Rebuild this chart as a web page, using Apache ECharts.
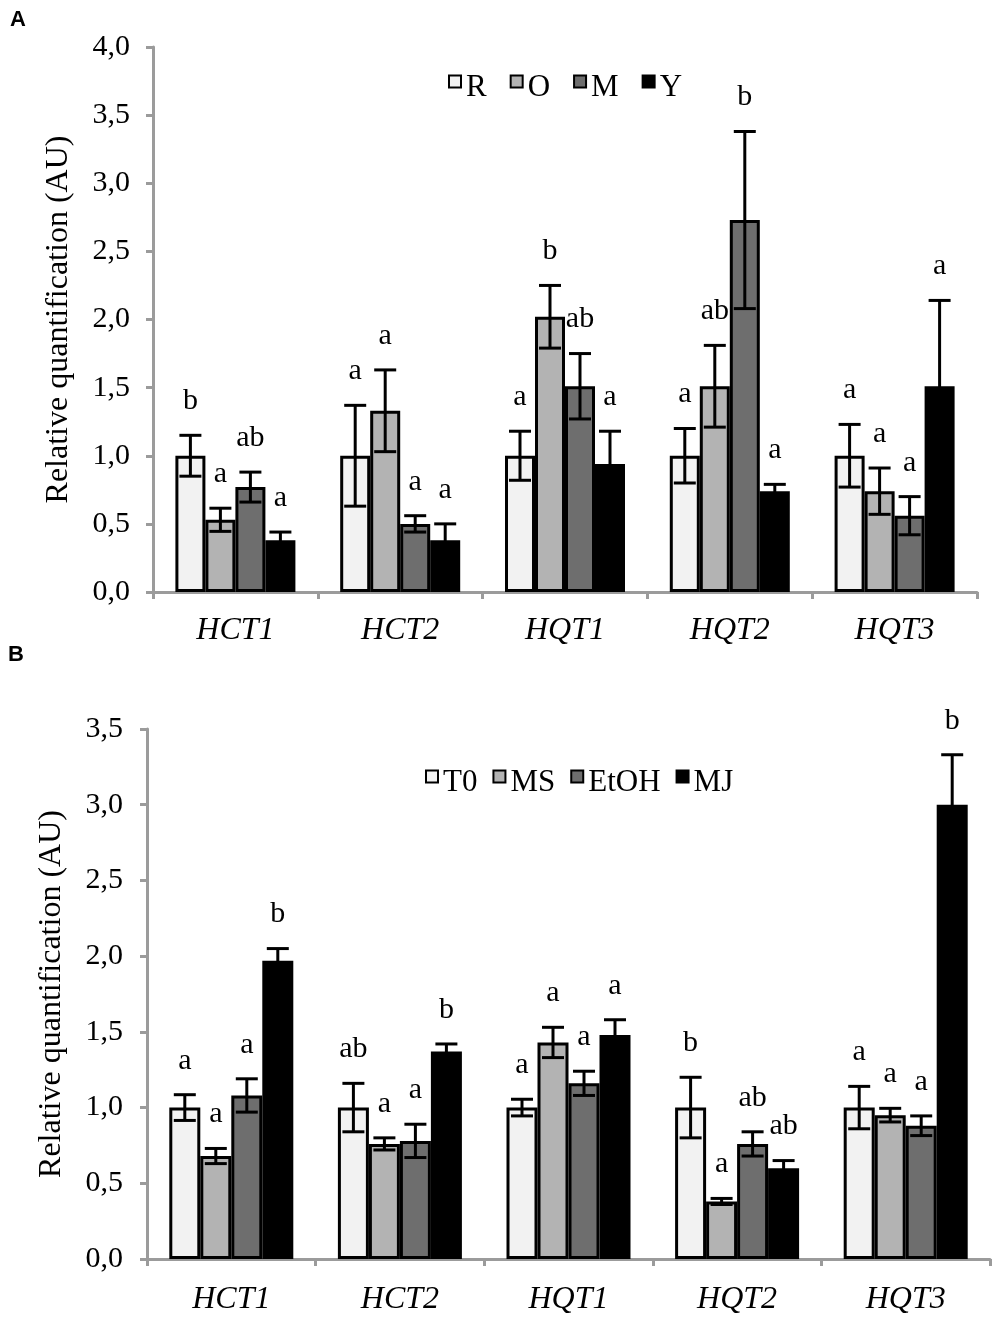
<!DOCTYPE html>
<html>
<head>
<meta charset="utf-8">
<script src="https://cdn.jsdelivr.net/npm/echarts@6/dist/echarts.min.js"></script>
<style>
  html, body { margin: 0; padding: 0; background: #fff; }
  #chart { width: 1000px; height: 1330px; }
</style>
</head>
<body>
<div id="chart"></div>
<script>
// ======================
// DATA
// ======================

const genes = ['HCT1', 'HCT2', 'HQT1', 'HQT2', 'HQT3'];
const yTicksA = { min: 0, max: 4, interval: 0.5 };
const yTicksB = { min: 0, max: 3.5, interval: 0.5 };

// Panel A: tissues
const namesA = ['R', 'O', 'M', 'Y'];
const aR = [1.0, 1.0, 1.0, 1.0, 1.0];
const aRErr = [0.15, 0.37, 0.18, 0.20, 0.23];
const aRSig = ['b', 'a', 'a', 'a', 'a'];
const aO = [0.53, 1.33, 2.02, 1.51, 0.74];
const aOErr = [0.085, 0.30, 0.23, 0.30, 0.17];
const aOSig = ['a', 'a', 'b', 'ab', 'a'];
const aM = [0.77, 0.50, 1.51, 2.73, 0.56];
const aMErr = [0.11, 0.06, 0.24, 0.65, 0.14];
const aMSig = ['ab', 'a', 'ab', 'b', 'a'];
const aY = [0.38, 0.38, 0.94, 0.74, 1.51];
const aYErr = [0.06, 0.12, 0.24, 0.05, 0.63];
const aYSig = ['a', 'a', 'a', 'a', 'a'];

// Panel B: treatments
const namesB = ['T0', 'MS', 'EtOH', 'MJ'];
const bT0 = [1.0, 1.0, 1.0, 1.0, 1.0];
const bT0Err = [0.085, 0.16, 0.055, 0.20, 0.14];
const bT0Sig = ['a', 'ab', 'a', 'b', 'a'];
const bMS = [0.68, 0.76, 1.43, 0.38, 0.95];
const bMSErr = [0.05, 0.04, 0.10, 0.02, 0.045];
const bMSSig = ['a', 'a', 'a', 'a', 'a'];
const bEtOH = [1.08, 0.78, 1.16, 0.76, 0.88];
const bEtOHErr = [0.11, 0.11, 0.08, 0.08, 0.065];
const bEtOHSig = ['a', 'a', 'a', 'ab', 'a'];
const bMJ = [1.97, 1.37, 1.48, 0.60, 3.00];
const bMJErr = [0.08, 0.05, 0.10, 0.05, 0.33];
const bMJSig = ['b', 'b', 'a', 'ab', 'b'];

const fills = ['#f2f2f2', '#b3b3b3', '#6e6e6e', '#000000'];

// ======================
// STYLE
// ======================

const SERIF = '"Liberation Serif", "Times New Roman", serif';
const AXIS_GREY = '#9b9b9b';
const BAR_W_A = 30;
const BAR_W_B = 31;

const commaFmt = v => v.toFixed(1).replace('.', ',');

function xAxisFor(gridIndex, margin) {
    return {
        type: 'category',
        gridIndex,
        data: genes,
        axisLine: { show: true, lineStyle: { color: AXIS_GREY, width: 3 } },
        axisTick: { show: true, length: 7, lineStyle: { color: AXIS_GREY, width: 3 } },
        axisLabel: {
            margin,
            fontFamily: SERIF,
            fontStyle: 'italic',
            fontSize: 32,
            color: '#000'
        }
    };
}

function yAxisFor(gridIndex, ticks, nameGap, margin) {
    return {
        type: 'value',
        gridIndex,
        min: ticks.min,
        max: ticks.max,
        interval: ticks.interval,
        name: 'Relative quantification (AU)',
        nameLocation: 'middle',
        nameGap,
        nameTextStyle: { fontFamily: SERIF, fontSize: 32, color: '#000' },
        axisLine: { show: true, lineStyle: { color: AXIS_GREY, width: 3 } },
        axisTick: { show: true, length: 7, lineStyle: { color: AXIS_GREY, width: 3 } },
        splitLine: { show: false },
        axisLabel: {
            margin,
            formatter: commaFmt,
            fontFamily: SERIF,
            fontSize: 30,
            color: '#000'
        }
    };
}

function barSeries(name, gridIndex, values, color, barWidth) {
    return {
        type: 'bar',
        name,
        xAxisIndex: gridIndex,
        yAxisIndex: gridIndex,
        data: values,
        barWidth,
        barGap: '0%',
        itemStyle: { color, borderColor: '#000', borderWidth: 3 },
        emphasis: { disabled: true },
        z: 2
    };
}

function errorSeries(name, gridIndex, pos, means, errs, sigs, barWidth) {
    return {
        type: 'custom',
        name: name + '-err',
        xAxisIndex: gridIndex,
        yAxisIndex: gridIndex,
        z: 5,
        silent: true,
        encode: { x: 0, y: 1 },
        data: means.map((m, k) => [k, m, errs[k]]),
        renderItem: (params, api) => {
            const k = api.value(0);
            const m = api.value(1);
            const e = api.value(2);
            const x = api.coord([k, m])[0] + (pos - 1.5) * barWidth;
            const yTop = api.coord([k, m + e])[1];
            const yBot = api.coord([k, m - e])[1];
            const cap = 11;
            const st = { stroke: '#000', lineWidth: 3 };
            return {
                type: 'group',
                children: [
                    { type: 'line', shape: { x1: x, y1: yTop, x2: x, y2: yBot }, style: st },
                    { type: 'line', shape: { x1: x - cap, y1: yTop, x2: x + cap, y2: yTop }, style: st },
                    { type: 'line', shape: { x1: x - cap, y1: yBot, x2: x + cap, y2: yBot }, style: st },
                    {
                        type: 'text',
                        style: {
                            text: sigs[params.dataIndex],
                            x,
                            y: yTop - 19,
                            align: 'center',
                            verticalAlign: 'bottom',
                            font: '30px ' + SERIF,
                            fill: '#000'
                        }
                    }
                ]
            };
        }
    };
}

// square sits in the upper half of a taller icon box, so the label
// text ends up a little lower than the square, as in the original
const LEGEND_ICON = 'path://M0,0 L12,0 L12,12 L0,12 Z M0,24';

function legendFor(names, left, top, itemGap) {
    return {
        data: names,
        left,
        top,
        orient: 'horizontal',
        padding: 0,
        itemGap,
        itemWidth: 12,
        itemHeight: 24,
        icon: LEGEND_ICON,
        selectedMode: false,
        textStyle: { fontFamily: SERIF, fontSize: 31, color: '#000' }
    };
}

// ======================
// BUILD
// ======================

const groupsA = [
    [aR, aRErr, aRSig], [aO, aOErr, aOSig], [aM, aMErr, aMSig], [aY, aYErr, aYSig]
];
const groupsB = [
    [bT0, bT0Err, bT0Sig], [bMS, bMSErr, bMSSig], [bEtOH, bEtOHErr, bEtOHSig], [bMJ, bMJErr, bMJSig]
];

const series = [];
groupsA.forEach(([v], i) => {
    series.push(barSeries(namesA[i], 0, v, fills[i], BAR_W_A));
});
groupsB.forEach(([v], i) => {
    series.push(barSeries(namesB[i], 1, v, fills[i], BAR_W_B));
});
groupsA.forEach(([v, e, s], i) => {
    series.push(errorSeries(namesA[i], 0, i, v, e, s, BAR_W_A));
});
groupsB.forEach(([v, e, s], i) => {
    series.push(errorSeries(namesB[i], 1, i, v, e, s, BAR_W_B));
});

const chart = echarts.init(document.getElementById('chart'), null, { renderer: 'canvas' });

const panelLabel = (text, left, top) => ({
    type: 'text',
    left,
    top,
    style: {
        text,
        fontSize: 22,
        fontWeight: 'bold',
        fontFamily: '"Liberation Sans", Arial, sans-serif',
        fill: '#000'
    }
});

chart.setOption({
    animation: false,
    backgroundColor: '#fff',
    grid: [
        { left: 153, right: 23, top: 47, height: 545 },
        { left: 147, right: 10, top: 729, height: 530 }
    ],
    xAxis: [xAxisFor(0, 23), xAxisFor(1, 25)],
    yAxis: [yAxisFor(0, yTicksA, 78, 23), yAxisFor(1, yTicksB, 79, 24)],
    legend: [
        legendFor(namesA, 448, 72, 23),
        legendFor(namesB, 425, 767, 15)
    ],
    graphic: [
        panelLabel('A', 10, 9),
        panelLabel('B', 8, 644)
    ],
    series
});
</script>
</body>
</html>
